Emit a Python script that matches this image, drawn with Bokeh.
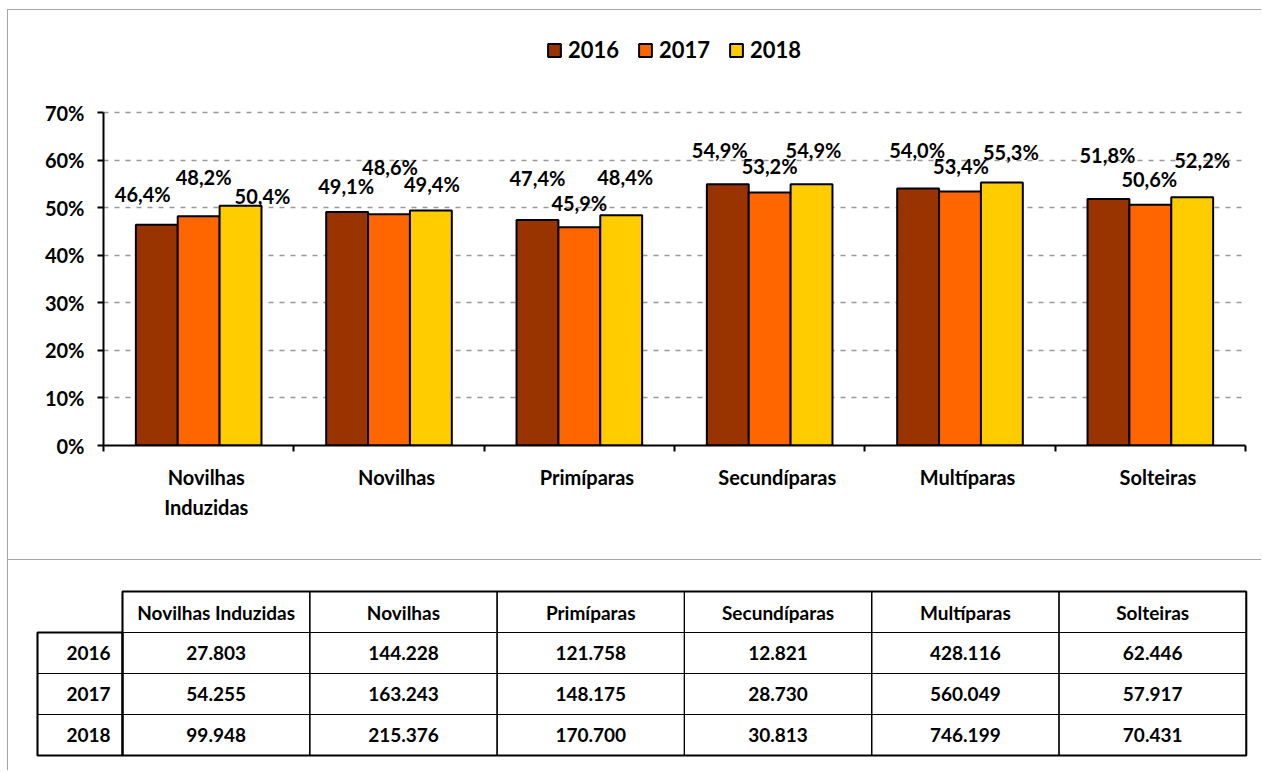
import numpy as np
from bokeh.plotting import figure
from bokeh.models import (ColumnDataSource, Range1d, FixedTicker, LabelSet,
                          Legend, LegendItem)
from bokeh.embed import file_html
from bokeh.resources import INLINE
from bokeh.core.properties import value

# ---------------- data ----------------
categories = ["Novilhas Induzidas", "Novilhas", "Primíparas", "Secundíparas", "Multíparas", "Solteiras"]
axis_labels = ["Novilhas\nInduzidas", "Novilhas", "Primíparas", "Secundíparas", "Multíparas", "Solteiras"]
years = ["2016", "2017", "2018"]
pct_2016 = [46.4, 49.1, 47.4, 54.9, 54.0, 51.8]
pct_2017 = [48.2, 48.6, 45.9, 53.2, 53.4, 50.6]
pct_2018 = [50.4, 49.4, 48.4, 54.9, 55.3, 52.2]
n_2016 = [27803, 144228, 121758, 12821, 428116, 62446]
n_2017 = [54255, 163243, 148175, 28730, 560049, 57917]
n_2018 = [99948, 215376, 170700, 30813, 746199, 70431]
y_ticks = [0, 10, 20, 30, 40, 50, 60, 70]

# ---------------- styles ----------------
FONT = "Lato"
colors = ["#993300", "#FF6600", "#FFCC00"]
BORDER = "1px solid #a6a6a6"
# data-label offsets in pixels (per series, per category)
lbl_dx = [[-14, -1, 0, -8, -1, -1],
          [5, 1, 0, 0, 1, -1],
          [22, 1, 4, 2, 9, 10]]
lbl_dy = [[31, 26, 42, 34, 39, 44],
          [39, 47, 24, 26, 25, 26],
          [10, 26, 38, 34, 30, 37]]

series = [pct_2016, pct_2017, pct_2018]
counts = [n_2016, n_2017, n_2018]

def fmt_pct(v):
    return f"{v:.1f}".replace(".", ",") + "%"

def fmt_n(n):
    return f"{n:,}".replace(",", ".")

# ---------------- chart ----------------
FRAME_H = 425          # frame height in px (extends above the 70% line)
AXIS_H = 333           # px taken by 0..70 %
y_top = y_ticks[-1] * FRAME_H / AXIS_H

p = figure(width=1254, height=550, x_range=Range1d(0, 6), y_range=Range1d(0, y_top),
           min_border_left=95, min_border_right=17, min_border_top=10, min_border_bottom=115,
           toolbar_location=None, output_backend="svg",
           styles={"margin-left": "7px", "margin-top": "9px",
                   "border-left": BORDER, "border-top": BORDER})
p.outline_line_color = None
p.background_fill_color = "white"
p.border_fill_color = "white"
p.xgrid.visible = False

yax = p.yaxis[0]
yax.ticker = FixedTicker(ticks=y_ticks)
yax.bounds = (y_ticks[0], y_ticks[-1])
yax.major_label_overrides = {t: f"{t}%" for t in y_ticks}
yax.major_label_text_font = FONT
yax.major_label_text_font_style = "bold"
yax.major_label_text_font_size = "20px"
yax.major_label_text_color = "black"
yax.axis_line_color = "black"
yax.axis_line_width = 2
yax.major_tick_line_color = "black"
yax.major_tick_line_width = 2
yax.major_tick_out = 6
yax.major_tick_in = 0
yax.minor_tick_out = 0
yax.minor_tick_in = 0
yax.major_label_standoff = 13

x_centers = np.arange(len(categories)) + 0.5
label_pos = [float(c) + 0.04 for c in x_centers]
xax = p.xaxis[0]
xax.ticker = FixedTicker(ticks=label_pos, minor_ticks=list(range(len(categories) + 1)))
xax.major_label_overrides = dict(zip(label_pos, axis_labels))
xax.major_label_text_font = FONT
xax.major_label_text_font_style = "bold"
xax.major_label_text_font_size = "20px"
xax.major_label_text_color = "black"
xax.major_label_text_line_height = 1.28
xax.axis_line_color = "black"
xax.axis_line_width = 2
xax.major_tick_out = 0
xax.major_tick_in = 0
xax.minor_tick_out = 6
xax.minor_tick_in = 0
xax.minor_tick_line_color = "black"
xax.minor_tick_line_width = 2
xax.major_label_standoff = 13

p.ygrid.grid_line_color = "#999999"
p.ygrid.grid_line_dash = "5 6"
p.ygrid.grid_line_width = 1.5

bar_w = 0.22
items = []
lx, ly, lt, ldx, ldy = [], [], [], [], []
for s, (yr, vals, col) in enumerate(zip(years, series, colors)):
    xs = x_centers + (s - 1) * bar_w
    src = ColumnDataSource(dict(x=xs, top=vals))
    r = p.vbar(x="x", top="top", bottom=0, width=bar_w, source=src,
               fill_color=col, line_color="black", line_width=2)
    items.append(LegendItem(label=yr, renderers=[r]))
    for i, v in enumerate(vals):
        lx.append(xs[i]); ly.append(v); lt.append(fmt_pct(v))
        ldx.append(lbl_dx[s][i]); ldy.append(lbl_dy[s][i])

lab_src = ColumnDataSource(dict(x=lx, y=ly, text=lt, dx=ldx, dy=ldy))
labels = LabelSet(x="x", y="y", text="text", x_offset="dx", y_offset="dy", source=lab_src,
                  text_align="center", text_baseline="middle", text_color="black",
                  text_font=value(FONT), text_font_style="bold", text_font_size="20px")
p.add_layout(labels)

leg = Legend(items=items, orientation="horizontal", location=(443, 382),
             glyph_width=16, glyph_height=16, label_standoff=6, spacing=18,
             padding=0, margin=0, border_line_color=None, background_fill_alpha=0,
             label_text_font=FONT, label_text_font_style="bold",
             label_text_font_size="22px", label_text_color="black")
p.add_layout(leg)

# ---------------- table ----------------
t = figure(width=1254, height=211, x_range=Range1d(8, 1262), y_range=Range1d(772, 561),
           x_axis_type=None, y_axis_type=None, min_border=0,
           toolbar_location=None, output_backend="svg",
           styles={"margin-left": "7px", "border-left": BORDER, "border-top": BORDER})
t.outline_line_color = None
t.background_fill_color = "white"
t.border_fill_color = "white"

tab_x0, col_w, lab_x0 = 122, 187.3, 37
tab_y0, row_h = 592, 41
ncol = len(categories)

hx = [tab_x0 + (j + 0.5) * col_w for j in range(ncol)]
hy = [tab_y0 + 0.5 * row_h] * ncol
cx, cy, ct = [], [], []
for r, yr in enumerate(years):
    for j in range(ncol):
        cx.append(hx[j]); cy.append(tab_y0 + (r + 1.5) * row_h); ct.append(fmt_n(counts[r][j]))
rx = [(lab_x0 + tab_x0) / 2] * len(years)
ry = [tab_y0 + (r + 1.5) * row_h for r in range(len(years))]

t.rect(x=hx, y=hy, width=col_w, height=row_h, fill_color=None, line_color="black", line_width=1.2)
t.rect(x=cx, y=cy, width=col_w, height=row_h, fill_color=None, line_color="black", line_width=1.2)
t.rect(x=rx, y=ry, width=tab_x0 - lab_x0, height=row_h, fill_color=None, line_color="black", line_width=1.2)
t.rect(x=[tab_x0 + ncol * col_w / 2], y=[tab_y0 + 2 * row_h], width=ncol * col_w, height=4 * row_h,
       fill_color=None, line_color="black", line_width=2)
t.rect(x=[(lab_x0 + tab_x0) / 2], y=[tab_y0 + 2.5 * row_h], width=tab_x0 - lab_x0, height=3 * row_h,
       fill_color=None, line_color="black", line_width=2)

txt_kw = dict(text_font=value(FONT), text_font_style="bold", text_font_size="19px",
              text_color="black", text_baseline="middle")
t.text(x=hx, y=hy, text=categories, text_align="center", **txt_kw)
t.text(x=cx, y=cy, text=ct, text_align="center", **txt_kw)
t.text(x=[tab_x0 - 12] * len(years), y=ry, text=years, text_align="right", **txt_kw)

open("out.html", "w").write(file_html([p, t], INLINE))
